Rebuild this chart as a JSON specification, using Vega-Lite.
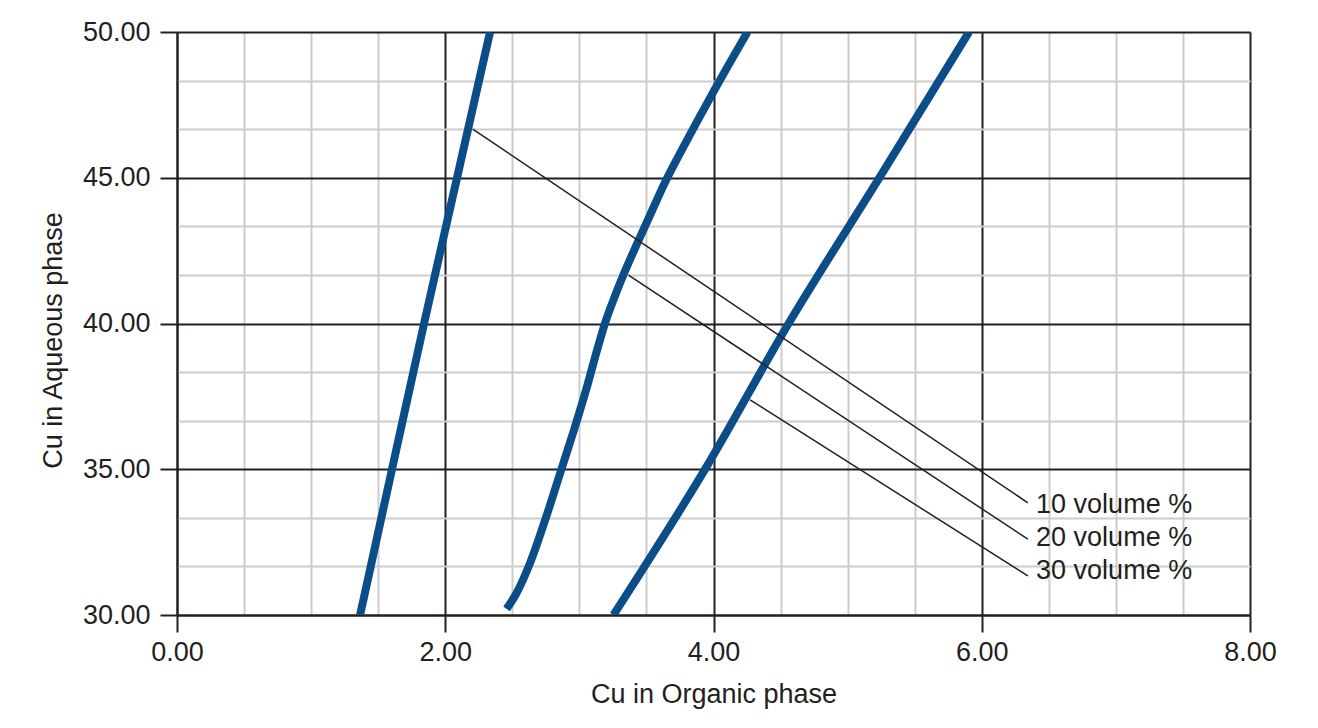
{
  "$schema": "https://vega.github.io/schema/vega-lite/v6.json",
  "autosize": {"type": "none"},
  "padding": {"left": 177, "top": 32, "right": 68, "bottom": 113},
  "width": 1073,
  "height": 583,
  "background": "white",
  "config": {"view": {"stroke": null}, "font": "Liberation Sans"},
  "datasets": {
    "curves": [
      {"series": "10", "x": 1.365, "y": 30.0},
      {"series": "10", "x": 1.603, "y": 35.0},
      {"series": "10", "x": 1.842, "y": 40.0},
      {"series": "10", "x": 2.088, "y": 45.0},
      {"series": "10", "x": 2.334, "y": 50.0},
      {"series": "20", "x": 2.457, "y": 30.21},
      {"series": "20", "x": 2.528, "y": 30.72},
      {"series": "20", "x": 2.632, "y": 31.78},
      {"series": "20", "x": 2.752, "y": 33.36},
      {"series": "20", "x": 2.864, "y": 34.97},
      {"series": "20", "x": 2.960, "y": 36.35},
      {"series": "20", "x": 3.050, "y": 37.72},
      {"series": "20", "x": 3.132, "y": 39.09},
      {"series": "20", "x": 3.199, "y": 40.12},
      {"series": "20", "x": 3.259, "y": 40.87},
      {"series": "20", "x": 3.334, "y": 41.73},
      {"series": "20", "x": 3.423, "y": 42.66},
      {"series": "20", "x": 3.527, "y": 43.72},
      {"series": "20", "x": 3.647, "y": 44.92},
      {"series": "20", "x": 3.796, "y": 46.23},
      {"series": "20", "x": 3.990, "y": 47.87},
      {"series": "20", "x": 4.254, "y": 50.0},
      {"series": "30", "x": 3.254, "y": 30.0},
      {"series": "30", "x": 3.941, "y": 35.03},
      {"series": "30", "x": 4.56, "y": 40.0},
      {"series": "30", "x": 5.242, "y": 45.04},
      {"series": "30", "x": 5.905, "y": 50.0}
    ],
    "leaders": [
      {"label": "10 volume %", "x": 2.205, "y": 46.67},
      {"label": "10 volume %", "x": 6.344, "y": 33.85},
      {"label": "20 volume %", "x": 3.366, "y": 41.66},
      {"label": "20 volume %", "x": 6.344, "y": 32.60},
      {"label": "30 volume %", "x": 4.273, "y": 37.38},
      {"label": "30 volume %", "x": 6.344, "y": 31.34}
    ],
    "labels": [
      {"label": "10 volume %", "x": 6.405, "y": 33.49},
      {"label": "20 volume %", "x": 6.405, "y": 32.37},
      {"label": "30 volume %", "x": 6.405, "y": 31.22}
    ]
  },
  "encoding": {
    "x": {
      "field": "x",
      "type": "quantitative",
      "scale": {"domain": [0, 8], "nice": false, "zero": false},
      "axis": {
        "title": "Cu in Organic phase",
        "values": [0, 0.5, 1, 1.5, 2, 2.5, 3, 3.5, 4, 4.5, 5, 5.5, 6, 6.5, 7, 7.5, 8],
        "labelExpr": "datum.value % 2 === 0 ? format(datum.value, '.2f') : ''",
        "grid": true,
        "gridColor": {"condition": {"test": "datum.value % 2 === 0", "value": "#231f20"}, "value": "#cccccc"},
        "gridWidth": 2,
        "domainColor": "#231f20",
        "domainWidth": 2,
        "tickColor": "#231f20",
        "tickWidth": 2,
        "tickSize": 17,
        "tickOpacity": {"condition": {"test": "datum.value % 2 === 0", "value": 1}, "value": 0},
        "labelFont": "Liberation Sans",
        "labelFontSize": 27,
        "labelColor": "#231f20",
        "labelPadding": 7,
        "labelFlush": false,
        "labelOverlap": false,
        "labelBound": false,
        "titleFont": "Liberation Sans",
        "titleFontSize": 27,
        "titleFontWeight": "normal",
        "titleColor": "#231f20",
        "titleBaseline": "alphabetic",
        "titleY": 87
      }
    },
    "y": {
      "field": "y",
      "type": "quantitative",
      "scale": {"domain": [30, 50], "nice": false, "zero": false},
      "axis": {
        "title": "Cu in Aqueous phase",
        "values": [30, 31.6666667, 33.3333333, 35, 36.6666667, 38.3333333, 40, 41.6666667, 43.3333333, 45, 46.6666667, 48.3333333, 50],
        "labelExpr": "datum.value % 5 === 0 ? format(datum.value, '.2f') : ''",
        "grid": true,
        "gridColor": {"condition": {"test": "datum.value % 5 === 0", "value": "#231f20"}, "value": "#cccccc"},
        "gridWidth": 2,
        "domainColor": "#231f20",
        "domainWidth": 2,
        "tickColor": "#231f20",
        "tickWidth": 2,
        "tickSize": 17,
        "tickOpacity": {"condition": {"test": "datum.value % 5 === 0", "value": 1}, "value": 0},
        "labelFont": "Liberation Sans",
        "labelFontSize": 27,
        "labelColor": "#231f20",
        "labelPadding": 10,
        "labelFlush": false,
        "labelOverlap": false,
        "labelBound": false,
        "titleFont": "Liberation Sans",
        "titleFontSize": 27,
        "titleFontWeight": "normal",
        "titleColor": "#231f20",
        "titleBaseline": "alphabetic",
        "titleAngle": 270,
        "titleX": -116,
        "titleY": 308
      }
    }
  },
  "layer": [
    {
      "data": {"name": "curves"},
      "mark": {"type": "line", "strokeWidth": 8, "color": "#0b4d88", "interpolate": "monotone", "strokeCap": "butt", "clip": true},
      "encoding": {
        "detail": {"field": "series"},
        "order": {"field": "y", "type": "quantitative"}
      }
    },
    {
      "data": {"name": "leaders"},
      "mark": {"type": "line", "strokeWidth": 1.5, "color": "#231f20"},
      "encoding": {
        "detail": {"field": "label"}
      }
    },
    {
      "data": {"name": "labels"},
      "mark": {"type": "text", "align": "left", "baseline": "alphabetic", "fontSize": 27, "font": "Liberation Sans", "color": "#231f20"},
      "encoding": {
        "text": {"field": "label"}
      }
    }
  ]
}
